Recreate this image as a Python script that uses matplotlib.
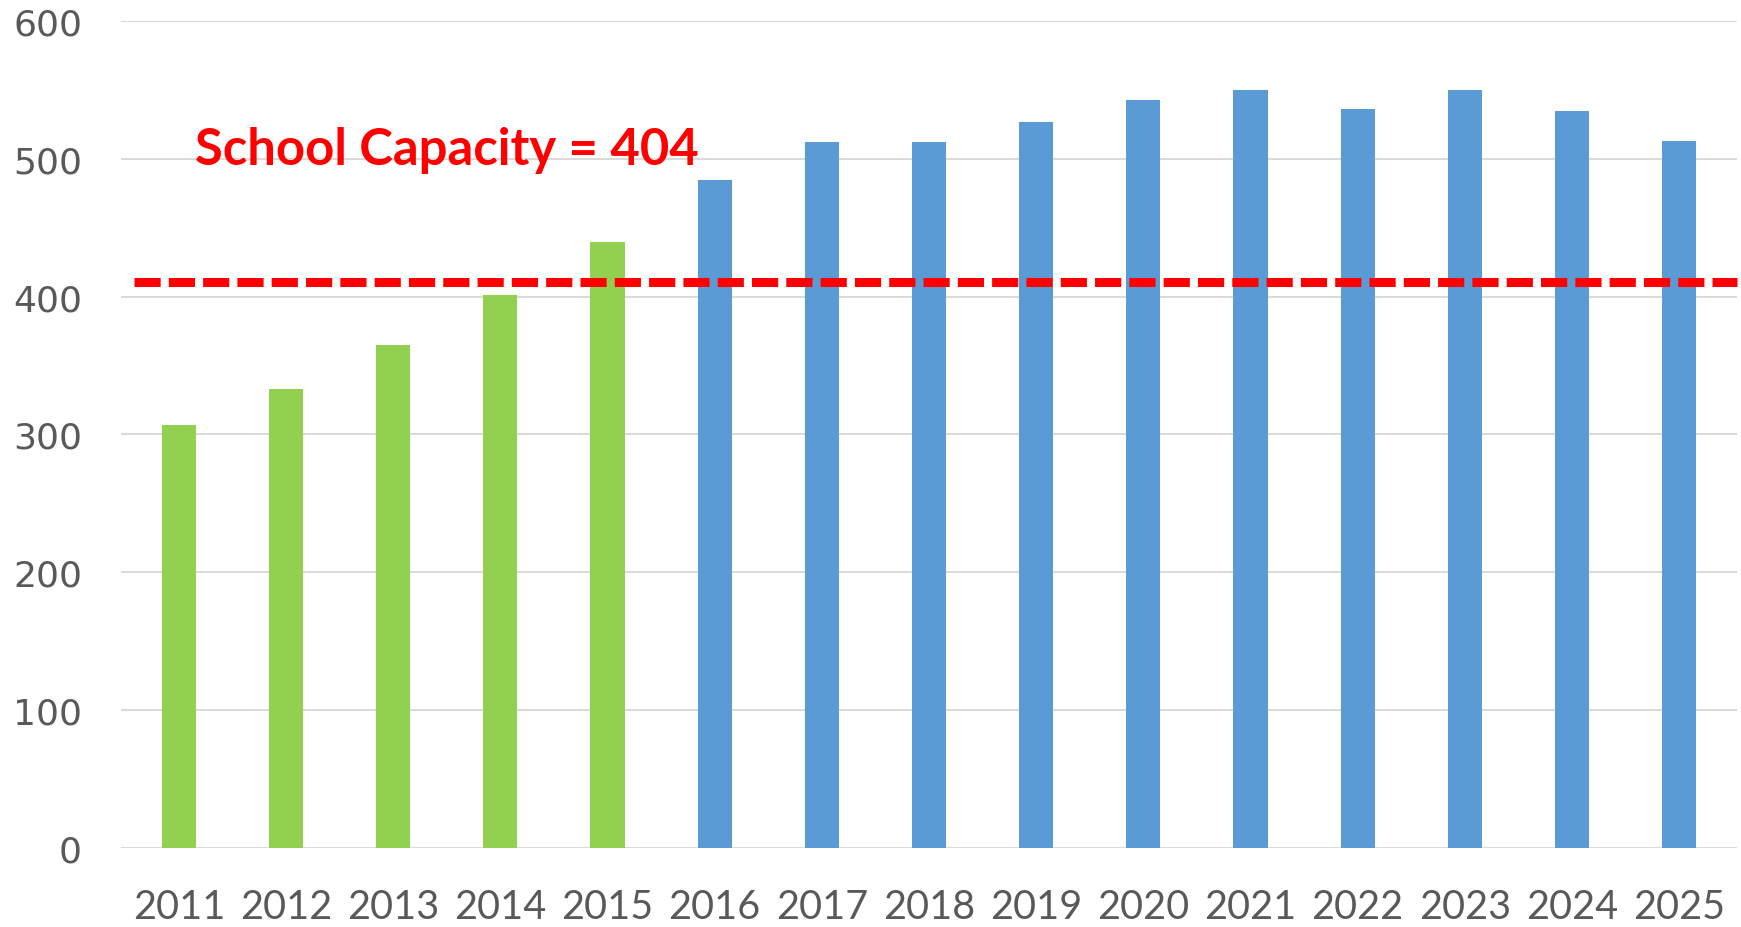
import matplotlib
matplotlib.use("Agg")
import matplotlib.pyplot as plt
import numpy as np

years = ["2011", "2012", "2013", "2014", "2015", "2016", "2017", "2018",
         "2019", "2020", "2021", "2022", "2023", "2024", "2025"]
enrollment = [307, 333, 365, 401, 440, 485, 512, 512, 527, 543, 550, 536, 550, 535, 513]
actual_count = 5  # first five bars are green (actual), rest blue (projected)
capacity_label = "School Capacity = 404"
capacity_line_value = 411
yticks = [0, 100, 200, 300, 400, 500, 600]

green = "#92D050"
blue = "#5B9BD5"
colors = [green if i < actual_count else blue for i in range(len(years))]

W, H = 1741, 928
fig = plt.figure(figsize=(W / 100, H / 100), dpi=100)
ax = fig.add_axes([121 / W, 1 - 848.7 / H, (1737 - 121) / W, (848.7 - 22.2) / H])

x = np.arange(len(years))
ax.bar(x, enrollment, width=0.32, color=colors, zorder=3)

ax.set_ylim(0, 600)
ax.set_xlim(-0.54, len(years) - 1 + 0.54)
ax.set_yticks(yticks)
ax.set_xticks(x)
ax.set_xticklabels(years)
ax.grid(axis="y", color="#D9D9D9", linewidth=1.4, zorder=0)
ax.grid(axis="x", visible=False)
for s in ax.spines.values():
    s.set_visible(False)
ax.tick_params(axis="both", length=0)
ax.tick_params(axis="y", pad=28, labelcolor="#595959", labelsize=26)
ax.tick_params(axis="x", pad=29, labelcolor="#595959", labelsize=28.5)
for lab in ax.get_yticklabels():
    lab.set_family("DejaVu Sans")
for lab in ax.get_xticklabels():
    lab.set_family("Lato")

line = ax.axhline(capacity_line_value, xmin=0.008, xmax=1.0, color="#FF0000",
                  linewidth=6.5, zorder=4, clip_on=False)
line.set_dashes((2.9, 0.9))
line.set_dash_capstyle("butt")

ax.text(0.15, 496, capacity_label, color="#FF0000", fontsize=36.5,
        fontweight="bold", family=["Lato", "DejaVu Sans"],
        ha="left", va="baseline", zorder=5)

fig.savefig("out.png", dpi=100)
